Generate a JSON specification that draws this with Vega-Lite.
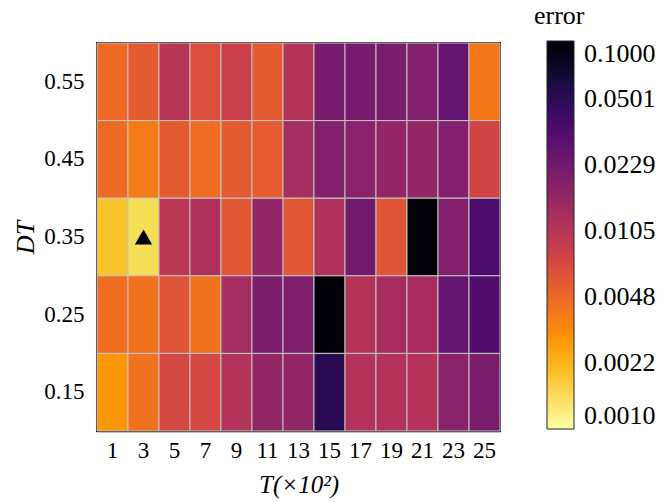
{
  "$schema": "https://vega.github.io/schema/vega-lite/v6.json",
  "autosize": "none",
  "width": 403,
  "height": 388,
  "padding": {"left": 97, "top": 43, "right": 167, "bottom": 71},
  "background": "white",
  "config": {
    "font": "Liberation Serif",
    "view": {"stroke": "black", "strokeWidth": 2},
    "legend": {"padding": 0},
    "axis": {
      "zindex": 1,
      "domain": true,
      "domainColor": "black",
      "domainWidth": 1.5,
      "grid": false,
      "labelFont": "Liberation Serif",
      "labelFontSize": 23,
      "labelColor": "black",
      "titleFont": "Liberation Serif",
      "titleColor": "black",
      "titleFontWeight": "normal",
      "ticks": true,
      "tickColor": "black",
      "tickWidth": 1.2,
      "tickSize": -6
    }
  },
  "datasets": {
    "cells": [
      {"DT": 0.55, "T": 1, "error": 0.0046},
      {"DT": 0.55, "T": 3, "error": 0.0055},
      {"DT": 0.55, "T": 5, "error": 0.0105},
      {"DT": 0.55, "T": 7, "error": 0.0066},
      {"DT": 0.55, "T": 9, "error": 0.0083},
      {"DT": 0.55, "T": 11, "error": 0.0055},
      {"DT": 0.55, "T": 13, "error": 0.011},
      {"DT": 0.55, "T": 15, "error": 0.0214},
      {"DT": 0.55, "T": 17, "error": 0.0214},
      {"DT": 0.55, "T": 19, "error": 0.021},
      {"DT": 0.55, "T": 21, "error": 0.019},
      {"DT": 0.55, "T": 23, "error": 0.0275},
      {"DT": 0.55, "T": 25, "error": 0.004},
      {"DT": 0.45, "T": 1, "error": 0.0046},
      {"DT": 0.45, "T": 3, "error": 0.0038},
      {"DT": 0.45, "T": 5, "error": 0.0055},
      {"DT": 0.45, "T": 7, "error": 0.0045},
      {"DT": 0.45, "T": 9, "error": 0.0055},
      {"DT": 0.45, "T": 11, "error": 0.0054},
      {"DT": 0.45, "T": 13, "error": 0.0129},
      {"DT": 0.45, "T": 15, "error": 0.019},
      {"DT": 0.45, "T": 17, "error": 0.018},
      {"DT": 0.45, "T": 19, "error": 0.016},
      {"DT": 0.45, "T": 21, "error": 0.016},
      {"DT": 0.45, "T": 23, "error": 0.019},
      {"DT": 0.45, "T": 25, "error": 0.0076},
      {"DT": 0.35, "T": 1, "error": 0.0019},
      {"DT": 0.35, "T": 3, "error": 0.00145},
      {"DT": 0.35, "T": 5, "error": 0.01},
      {"DT": 0.35, "T": 7, "error": 0.0115},
      {"DT": 0.35, "T": 9, "error": 0.0058},
      {"DT": 0.35, "T": 11, "error": 0.016},
      {"DT": 0.35, "T": 13, "error": 0.0058},
      {"DT": 0.35, "T": 15, "error": 0.0115},
      {"DT": 0.35, "T": 17, "error": 0.023},
      {"DT": 0.35, "T": 19, "error": 0.006},
      {"DT": 0.35, "T": 21, "error": 0.097},
      {"DT": 0.35, "T": 23, "error": 0.019},
      {"DT": 0.35, "T": 25, "error": 0.036},
      {"DT": 0.25, "T": 1, "error": 0.0044},
      {"DT": 0.25, "T": 3, "error": 0.0042},
      {"DT": 0.25, "T": 5, "error": 0.006},
      {"DT": 0.25, "T": 7, "error": 0.0042},
      {"DT": 0.25, "T": 9, "error": 0.0129},
      {"DT": 0.25, "T": 11, "error": 0.021},
      {"DT": 0.25, "T": 13, "error": 0.02},
      {"DT": 0.25, "T": 15, "error": 0.098},
      {"DT": 0.25, "T": 17, "error": 0.011},
      {"DT": 0.25, "T": 19, "error": 0.0126},
      {"DT": 0.25, "T": 21, "error": 0.0126},
      {"DT": 0.25, "T": 23, "error": 0.0275},
      {"DT": 0.25, "T": 25, "error": 0.034},
      {"DT": 0.15, "T": 1, "error": 0.0029},
      {"DT": 0.15, "T": 3, "error": 0.0042},
      {"DT": 0.15, "T": 5, "error": 0.0072},
      {"DT": 0.15, "T": 7, "error": 0.0072},
      {"DT": 0.15, "T": 9, "error": 0.011},
      {"DT": 0.15, "T": 11, "error": 0.016},
      {"DT": 0.15, "T": 13, "error": 0.016},
      {"DT": 0.15, "T": 15, "error": 0.052},
      {"DT": 0.15, "T": 17, "error": 0.011},
      {"DT": 0.15, "T": 19, "error": 0.011},
      {"DT": 0.15, "T": 21, "error": 0.011},
      {"DT": 0.15, "T": 23, "error": 0.018},
      {"DT": 0.15, "T": 25, "error": 0.021}
    ],
    "best": [
      {"DT": 0.35, "T": 3}
    ]
  },
  "layer": [
    {
      "data": {"name": "cells"},
      "mark": {"type": "rect", "stroke": "#c4c4c4", "strokeWidth": 1},
      "encoding": {
        "x": {
          "field": "T",
          "type": "ordinal",
          "sort": "ascending",
          "scale": {"paddingInner": 0, "paddingOuter": 0},
          "axis": {
            "labelAngle": 0,
            "labelPadding": 14,
            "title": "T(×10²)",
            "titleFontSize": 25,
            "titleFontStyle": "italic",
            "titlePadding": 10
          }
        },
        "y": {
          "field": "DT",
          "type": "ordinal",
          "sort": "descending",
          "scale": {"paddingInner": 0, "paddingOuter": 0},
          "axis": {
            "labelPadding": 19,
            "title": "DT",
            "titleFontSize": 26,
            "titleFontStyle": "italic",
            "titlePadding": 5
          }
        },
        "color": {
          "field": "error",
          "type": "quantitative",
          "scale": {"type": "log", "domain": [0.001, 0.1], "scheme": "inferno", "reverse": true},
          "legend": {
            "title": "error",
            "orient": "none",
            "legendX": 437,
            "legendY": -40,
            "direction": "vertical",
            "padding": 0,
            "gradientLength": 388,
            "gradientThickness": 27,
            "gradientStrokeColor": "#222222",
            "gradientStrokeWidth": 1,
            "values": [0.001, 0.0022, 0.0048, 0.0105, 0.0229, 0.0501, 0.1],
            "format": ".4f",
            "labelFont": "Liberation Serif",
            "labelFontSize": 26,
            "labelColor": "black",
            "labelOffset": 10,
            "labelOverlap": false,
            "labelLimit": 200,
            "titleFont": "Liberation Serif",
            "titleFontSize": 26,
            "titleFontWeight": "normal",
            "titleColor": "black",
            "titlePadding": 12,
            "encode": {"title": {"update": {"dx": {"value": -13}}}}
          }
        }
      }
    },
    {
      "data": {"name": "best"},
      "mark": {"type": "point", "shape": "triangle-up", "filled": true, "color": "black", "size": 300, "opacity": 1},
      "encoding": {
        "x": {"field": "T", "type": "ordinal", "sort": "ascending"},
        "y": {"field": "DT", "type": "ordinal", "sort": "descending"}
      }
    }
  ]
}
